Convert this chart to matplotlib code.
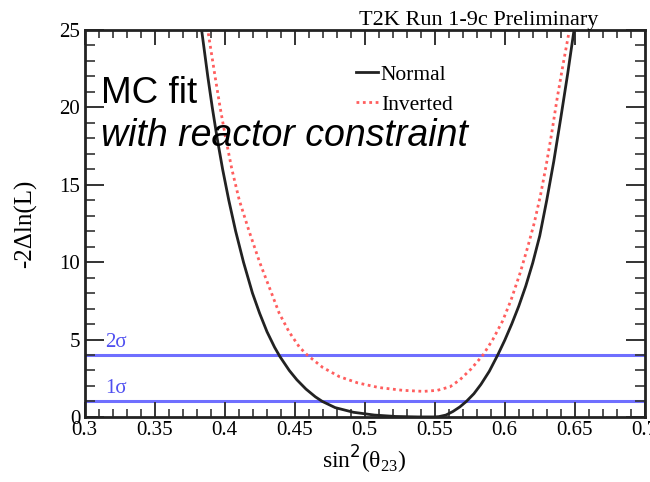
import matplotlib
matplotlib.use("Agg")
import matplotlib.pyplot as plt
from matplotlib.ticker import MultipleLocator

# Normal hierarchy, -2ΔlnL vs sin^2(theta23)
normal_x = [0.3820, 0.3836, 0.3880, 0.3912, 0.3947, 0.3986, 0.4030, 0.4079, 0.4135,
            0.4199, 0.4250, 0.4303, 0.4357, 0.4395, 0.4462, 0.4516, 0.4581, 0.4648,
            0.4698, 0.4790, 0.4920, 0.5070, 0.5220, 0.5380, 0.5500, 0.5530, 0.5580,
            0.5630, 0.5680, 0.5726, 0.5780, 0.5830, 0.5890, 0.5950, 0.6000, 0.6050,
            0.6100, 0.6150, 0.6200, 0.6250, 0.6300, 0.6350, 0.6400, 0.6450, 0.6495,
            0.6510]
normal_y = [26.0, 25.0, 22.0, 20.0, 18.0, 16.0, 14.0, 12.0, 10.0,
            8.0, 6.7, 5.5, 4.5, 3.9, 3.0, 2.4, 1.8, 1.3,
            1.0, 0.6, 0.3, 0.12, 0.03, 0.0, 0.0, 0.02, 0.12,
            0.35, 0.65, 1.0, 1.5, 2.1, 2.95, 4.0, 4.95, 6.0,
            7.15, 8.45, 9.95, 11.7, 14.0, 16.5, 19.3, 22.2, 25.0,
            26.0]

# Inverted hierarchy
inverted_x = [0.3862, 0.3880, 0.3932, 0.3968, 0.4008, 0.4052, 0.4105, 0.4175, 0.4250,
              0.4335, 0.4390, 0.4460, 0.4535, 0.4590, 0.4700, 0.4820, 0.4950, 0.5100,
              0.5270, 0.5420, 0.5520, 0.5610, 0.5680, 0.5760, 0.5845, 0.5915, 0.5985,
              0.6045, 0.6110, 0.6165, 0.6210, 0.6255, 0.6295, 0.6335, 0.6372, 0.6415,
              0.6462, 0.6482]
inverted_y = [26.0, 25.0, 22.0, 20.0, 18.0, 16.0, 14.0, 12.0, 10.0,
              8.0, 6.7, 5.5, 4.5, 4.0, 3.2, 2.6, 2.2, 1.9,
              1.72, 1.65, 1.72, 1.95, 2.4, 3.1, 4.0, 5.0, 6.2,
              7.55, 9.3, 11.0, 12.5, 14.3, 16.2, 18.3, 20.45, 22.7,
              25.0, 26.0]

sigma_levels = [1, 4]
sigma_labels = ["1σ", "2σ"]

SERIF = ["Liberation Serif", "DejaVu Serif"]
SANS = ["Liberation Sans", "DejaVu Sans"]
plt.rcParams.update({"font.family": SERIF, "font.size": 15})

fig = plt.figure(figsize=(6.5, 4.82), dpi=100)
ax = fig.add_axes([0.130, 0.135, 0.862, 0.803])

for lvl, lab in zip(sigma_levels, sigma_labels):
    ax.axhline(lvl, color="#6f6fff", lw=2.2, zorder=1)
    ax.text(0.3145, lvl + 0.2, lab, color="#5050f0", fontsize=15, va="bottom")

ax.plot(normal_x, normal_y, color="#222222", lw=2.0, label="Normal", zorder=3)
ax.plot(inverted_x, inverted_y, color="#ff5e5e", lw=2.0, ls=(0, (1, 1.3)),
        label="Inverted", zorder=2)

ax.set_xlim(0.3, 0.7)
ax.set_ylim(0, 25)
ax.xaxis.set_major_locator(MultipleLocator(0.05))
ax.xaxis.set_minor_locator(MultipleLocator(0.01))
ax.yaxis.set_major_locator(MultipleLocator(5))
ax.yaxis.set_minor_locator(MultipleLocator(1))
ax.xaxis.set_major_formatter(lambda v, _: f"{v:g}")
ax.tick_params(which="both", direction="in", top=True, right=True, color="#333333")
ax.tick_params(which="major", width=1.4, labelsize=15, pad=3)
ax.tick_params(which="minor", width=1.2)
ax.tick_params(axis="x", which="major", length=11)
ax.tick_params(axis="x", which="minor", length=6)
ax.tick_params(axis="y", which="major", length=14)
ax.tick_params(axis="y", which="minor", length=7)
for s in ax.spines.values():
    s.set_linewidth(2.0)
    s.set_color("#222222")

ax.set_xlabel(r"sin$^2$($\mathregular{\theta_{23}}$)", fontsize=17, labelpad=3)
ax.set_ylabel("-2Δln(L)", fontsize=18, labelpad=16)

ax.legend(loc="upper left", bbox_to_anchor=(0.45, 0.96), frameon=False,
          handlelength=1.0, handletextpad=0.15, labelspacing=0.45, fontsize=15.5)

ax.text(0.03, 0.835, "MC fit", transform=ax.transAxes, fontsize=26.5,
        family=SANS, va="center")
ax.text(0.03, 0.725, "with reactor constraint", transform=ax.transAxes, fontsize=27,
        family=SANS, style="italic", va="center")
fig.text(0.737, 0.958, "T2K Run 1-9c Preliminary", fontsize=16, ha="center", va="center")

fig.savefig("out.png", dpi=100)
